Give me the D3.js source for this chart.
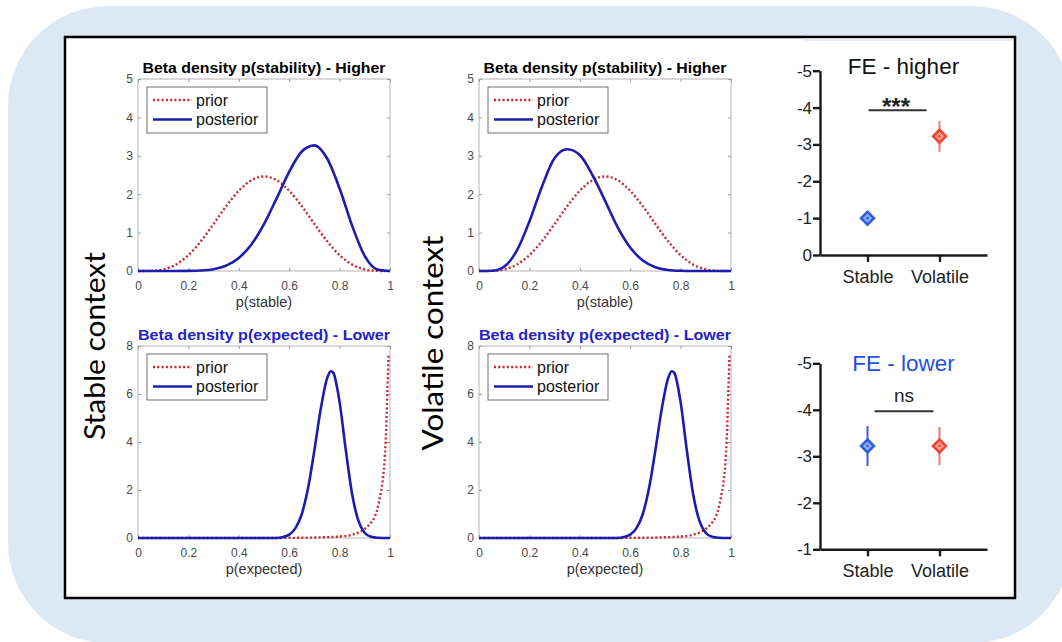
<!DOCTYPE html>
<html>
<head>
  <meta charset="utf-8">
  <title>Beta densities and FE</title>
  <script src="https://d3js.org/d3.v7.min.js"></script>
  <style>
    body { margin: 0; background: #fff; }
    svg { display: block; font-family: "Liberation Sans", Arial, sans-serif; }
  </style>
</head>
<body>
  <div id="chart"></div>

  <script>
    // ---- values ----
    // density curves, p(stable) panels (x grid step 0.05)
    var pStableGrid = [0, 0.05, 0.1, 0.15, 0.2, 0.25, 0.3, 0.35, 0.4, 0.45, 0.5,
                       0.55, 0.6, 0.65, 0.7, 0.75, 0.8, 0.85, 0.9, 0.95, 1];
    var priorStability = [0, 0.003, 0.041, 0.167, 0.413, 0.779, 1.225, 1.688, 2.09, 2.364, 2.461,
                          2.364, 2.09, 1.688, 1.225, 0.779, 0.413, 0.167, 0.041, 0.003, 0];
    var postStabilityStable = [0, 0, 0, 0, 0.002, 0.012, 0.047, 0.141, 0.34, 0.692, 1.222,
                               1.89, 2.583, 3.111, 3.272, 2.936, 2.149, 1.174, 0.388, 0.039, 0];
    var postStabilityVolatile = [0, 0.006, 0.116, 0.528, 1.29, 2.202, 2.94, 3.17, 3.02, 2.5, 1.833,
                                 1.144, 0.612, 0.275, 0.099, 0.027, 0.005, 0, 0, 0, 0];

    // density curves, p(expected) panels
    var pExpectedPrior = [0, 0.5, 0.6, 0.7, 0.8, 0.85, 0.88, 0.9, 0.92, 0.94, 0.95,
                          0.96, 0.97, 0.98, 0.985, 0.99, 0.994];
    var priorExpected = [0, 0.001, 0.005, 0.02, 0.06, 0.14, 0.25, 0.38, 0.58, 0.9, 1.2,
                         1.7, 2.3, 3.5, 4.6, 6.3, 7.6];
    var pExpectedPost = [0, 0.55, 0.575, 0.6, 0.625, 0.65, 0.675, 0.7, 0.725, 0.75, 0.765,
                         0.775, 0.8, 0.825, 0.85, 0.875, 0.9, 0.925, 0.95, 1];
    var postExpected = [0, 0, 0.04, 0.14, 0.41, 1.0, 2.09, 3.66, 5.37, 6.64, 6.95,
                        6.88, 5.66, 3.63, 1.81, 0.7, 0.21, 0.05, 0.01, 0];

    var densityXTicks = [0, 0.2, 0.4, 0.6, 0.8, 1];
    var stabilityYTicks = [0, 1, 2, 3, 4, 5];
    var expectedYTicks = [0, 2, 4, 6, 8];

    // FE panels
    var groups = ["Stable", "Volatile"];
    var feHigherMean = [-1.0, -3.22];
    var feHigherErr = [0, 0.42];
    var feLowerMean = [-3.22, -3.22];
    var feLowerErr = [0.43, 0.41];
    var feHigherTicks = [0, -1, -2, -3, -4, -5];
    var feLowerTicks = [-1, -2, -3, -4, -5];

    var priorColor = "#c9272b",
        postColor = "#1c1cae",
        groupColor = ["#2b5ee6", "#f0462e"],
        groupFill = ["#8fa9f2", "#f6a08f"],
        barColor = ["#3a5ee0", "#ef7d6c"];

    var svg = d3.select("#chart")
      .append("svg")
        .attr("width", 1062)
        .attr("height", 642);

    // light blue rounded background + black frame
    svg.append("rect")
      .attr("x", 8).attr("y", 6)
      .attr("width", 1064).attr("height", 637)
      .attr("rx", 100).attr("ry", 100)
      .attr("fill", "#dde8f5");
    svg.append("rect")
      .attr("x", 65).attr("y", 37)
      .attr("width", 950).attr("height", 561)
      .attr("fill", "#fff")
      .attr("stroke", "#000")
      .attr("stroke-width", 2.5);
    svg.append("rect")
      .attr("x", 803).attr("y", 38.5)
      .attr("width", 210).attr("height", 2.5)
      .attr("fill", "#e4edf8");

    var fmt = function(d) { return String(d); };

    function densityPlot(cfg) {
      var x = d3.scaleLinear().domain([0, 1]).range([cfg.left, cfg.left + 252]);
      var y = d3.scaleLinear().domain([0, cfg.yMax]).range([cfg.top + 192, cfg.top]);
      var g = svg.append("g");

      g.append("rect")
        .attr("x", x(0)).attr("y", y(cfg.yMax))
        .attr("width", x(1) - x(0)).attr("height", y(0) - y(cfg.yMax))
        .attr("fill", "#fff")
        .attr("stroke", "#b3b3b3")
        .attr("stroke-width", 1);

      var axes = g.append("g");
      axes.append("g")
        .attr("transform", "translate(0," + y(0) + ")")
        .call(d3.axisBottom(x).tickValues(densityXTicks).tickSize(-3).tickSizeOuter(0).tickPadding(10).tickFormat(fmt));
      axes.append("g")
        .attr("transform", "translate(0," + y(cfg.yMax) + ")")
        .call(d3.axisTop(x).tickValues(densityXTicks).tickSize(-3).tickSizeOuter(0).tickFormat(""));
      axes.append("g")
        .attr("transform", "translate(" + x(0) + ",0)")
        .call(d3.axisLeft(y).tickValues(cfg.yTicks).tickSize(-3).tickSizeOuter(0).tickPadding(5).tickFormat(fmt));
      axes.append("g")
        .attr("transform", "translate(" + x(1) + ",0)")
        .call(d3.axisRight(y).tickValues(cfg.yTicks).tickSize(-3).tickSizeOuter(0).tickFormat(""));
      axes.selectAll(".domain").remove();
      axes.selectAll(".tick line").attr("stroke", "#9a9a9a");
      axes.selectAll(".tick text")
        .attr("fill", "#4a4a4a")
        .attr("font-family", "'Liberation Sans', Arial, sans-serif")
        .attr("font-size", 12);

      var line = d3.line()
        .x(function(d) { return x(d[0]); })
        .y(function(d) { return y(d[1]); })
        .curve(d3.curveMonotoneX);

      // prior (dotted red), posterior (solid blue) on top
      g.append("path")
        .datum(d3.zip(cfg.priorX, cfg.prior))
        .attr("d", line)
        .attr("fill", "none")
        .attr("stroke", priorColor)
        .attr("stroke-width", 2.4)
        .attr("stroke-dasharray", "2,2.3");
      g.append("path")
        .datum(d3.zip(cfg.postX, cfg.post))
        .attr("d", line)
        .attr("fill", "none")
        .attr("stroke", postColor)
        .attr("stroke-width", 2.6);

      // title + x label
      g.append("text")
        .attr("x", x(0.5)).attr("y", cfg.top - 6.5)
        .attr("text-anchor", "middle")
        .attr("font-weight", "bold")
        .attr("font-size", 14.5)
        .attr("textLength", cfg.titleLen)
        .attr("lengthAdjust", "spacingAndGlyphs")
        .attr("fill", cfg.titleColor)
        .text(cfg.title);
      g.append("text")
        .attr("x", x(0.5)).attr("y", y(0) + 36)
        .attr("text-anchor", "middle")
        .attr("font-size", 14.5)
        .attr("fill", "#333")
        .text(cfg.xLabel);

      // legend
      var lg = g.append("g").attr("transform", "translate(" + (x(0) + 9) + "," + (y(cfg.yMax) + 8) + ")");
      lg.append("rect")
        .attr("width", 120).attr("height", 46)
        .attr("fill", "#fff")
        .attr("stroke", "#6e6e6e")
        .attr("stroke-width", 1);
      var items = [
        {name: "prior", color: priorColor, dash: "2,2.3"},
        {name: "posterior", color: postColor, dash: null}
      ];
      items.forEach(function(it, i) {
        var cy = 13 + i * 19.5;
        lg.append("line")
          .attr("x1", 6).attr("x2", 45)
          .attr("y1", cy).attr("y2", cy)
          .attr("stroke", it.color)
          .attr("stroke-width", 2.5)
          .attr("stroke-dasharray", it.dash);
        lg.append("text")
          .attr("x", 49).attr("y", cy + 5.5)
          .attr("font-size", 16)
          .attr("fill", "#111")
          .text(it.name);
      });
    }

    densityPlot({left: 138, top: 79, yMax: 5, yTicks: stabilityYTicks,
      title: "Beta density p(stability) - Higher", titleColor: "#000", titleLen: 243, xLabel: "p(stable)",
      priorX: pStableGrid, prior: priorStability, postX: pStableGrid, post: postStabilityStable});
    densityPlot({left: 479, top: 79, yMax: 5, yTicks: stabilityYTicks,
      title: "Beta density p(stability) - Higher", titleColor: "#000", titleLen: 243, xLabel: "p(stable)",
      priorX: pStableGrid, prior: priorStability, postX: pStableGrid, post: postStabilityVolatile});
    densityPlot({left: 138, top: 346, yMax: 8, yTicks: expectedYTicks,
      title: "Beta density p(expected) - Lower", titleColor: "#2323c8", titleLen: 252, xLabel: "p(expected)",
      priorX: pExpectedPrior, prior: priorExpected, postX: pExpectedPost, post: postExpected});
    densityPlot({left: 479, top: 346, yMax: 8, yTicks: expectedYTicks,
      title: "Beta density p(expected) - Lower", titleColor: "#2323c8", titleLen: 252, xLabel: "p(expected)",
      priorX: pExpectedPrior, prior: priorExpected, postX: pExpectedPost, post: postExpected});

    // row labels
    [{text: "Stable context", x: 105, y: 346, len: 188},
     {text: "Volatile context", x: 443, y: 343, len: 215}].forEach(function(l) {
      svg.append("text")
        .attr("transform", "translate(" + l.x + "," + l.y + ") rotate(-90)")
        .attr("text-anchor", "middle")
        .attr("font-family", "Lato, 'Open Sans', sans-serif")
        .attr("font-size", 29)
        .attr("textLength", l.len)
        .attr("lengthAdjust", "spacingAndGlyphs")
        .attr("fill", "#000")
        .text(l.text);
    });

    function fePlot(cfg) {
      var x = d3.scalePoint().domain(groups).range([820, 987]).padding(0.66);
      var y = d3.scaleLinear().domain([cfg.yMin, -5]).range([cfg.bottom, cfg.top]);
      var g = svg.append("g");

      var axes = g.append("g");
      axes.append("g")
        .attr("class", "yax")
        .attr("transform", "translate(820,0)")
        .call(d3.axisLeft(y).tickValues(cfg.ticks).tickSize(7).tickSizeOuter(0).tickPadding(1).tickFormat(fmt));
      axes.append("g")
        .attr("class", "xax")
        .attr("transform", "translate(0," + cfg.bottom + ")")
        .call(d3.axisBottom(x).tickSize(7).tickSizeOuter(0).tickPadding(8));
      axes.selectAll(".domain, .tick line")
        .attr("stroke", "#1a1a1a")
        .attr("stroke-width", 2.4);
      axes.selectAll(".tick text")
        .attr("fill", "#222")
        .attr("font-family", "'Liberation Sans', Arial, sans-serif");
      axes.selectAll(".yax .tick text").attr("font-size", 17);
      axes.selectAll(".xax .tick text").attr("font-size", 18);

      g.append("text")
        .attr("x", (820 + 987) / 2).attr("y", cfg.titleY)
        .attr("text-anchor", "middle")
        .attr("font-size", 22.5)
        .attr("fill", cfg.titleColor)
        .text(cfg.title);

      // significance bracket
      var sx1 = x(groups[0]) + cfg.sigInset[0],
          sx2 = x(groups[1]) - cfg.sigInset[1];
      g.append("line")
        .attr("x1", sx1).attr("x2", sx2)
        .attr("y1", y(cfg.sigY)).attr("y2", y(cfg.sigY))
        .attr("stroke", "#333")
        .attr("stroke-width", 2);
      g.append("text")
        .attr("x", (sx1 + sx2) / 2 + cfg.sigDx).attr("y", y(cfg.sigY) + cfg.sigTextDy)
        .attr("text-anchor", "middle")
        .attr("font-size", cfg.sigSize)
        .attr("font-weight", cfg.sigWeight)
        .attr("fill", "#222")
        .text(cfg.sig);

      groups.forEach(function(gr, i) {
        var cx = x(gr), cy = y(cfg.mean[i]);
        if (cfg.err[i] > 0) {
          g.append("line")
            .attr("x1", cx).attr("x2", cx)
            .attr("y1", y(cfg.mean[i] - cfg.err[i])).attr("y2", y(cfg.mean[i] + cfg.err[i]))
            .attr("stroke", barColor[i])
            .attr("stroke-width", 2);
        }
        g.append("path")
          .attr("d", d3.symbol(d3.symbolSquare, 82)())
          .attr("transform", "translate(" + cx + "," + cy + ") rotate(45)")
          .attr("fill", groupFill[i])
          .attr("stroke", groupColor[i])
          .attr("stroke-width", 2.6);
        g.append("circle")
          .attr("cx", cx).attr("cy", cy).attr("r", 1.3)
          .attr("fill", groupColor[i]);
      });
    }

    fePlot({top: 70.7, bottom: 255, yMin: 0, ticks: feHigherTicks,
      title: "FE - higher", titleColor: "#111", titleY: 74,
      mean: feHigherMean, err: feHigherErr,
      sig: "***", sigY: -3.93, sigInset: [1, 13], sigDx: -1.5, sigTextDy: 5, sigSize: 24, sigWeight: "bold"});
    fePlot({top: 363.3, bottom: 549.3, yMin: -1, ticks: feLowerTicks,
      title: "FE - lower", titleColor: "#1f4fe6", titleY: 371,
      mean: feLowerMean, err: feLowerErr,
      sig: "ns", sigY: -3.97, sigInset: [7, 6], sigDx: 0, sigTextDy: -9, sigSize: 19, sigWeight: "normal"});
  </script>
</body>
</html>
